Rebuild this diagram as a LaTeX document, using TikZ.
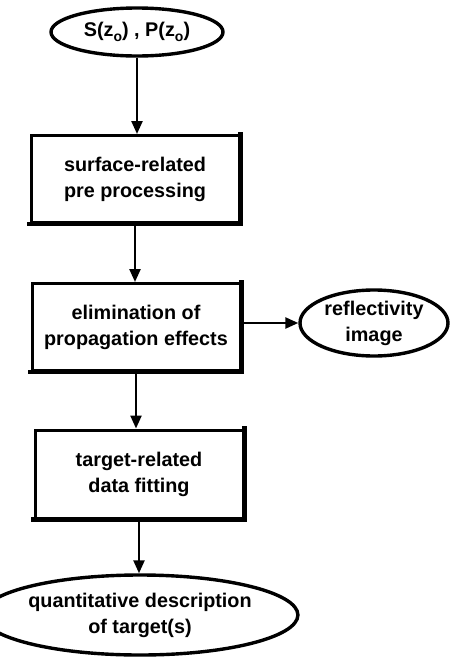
\documentclass[tikz,border=0pt]{standalone}
\usepackage{fontspec}
\setmainfont{Liberation Sans}
\usetikzlibrary{shapes.geometric,arrows.meta}
\newcommand\subo{\raisebox{-5pt}{\fontsize{14}{14}\selectfont o}}
\begin{document}
\begin{tikzpicture}[x=1pt,y=-1pt,
  every node/.style={font=\fontsize{19.8}{26}\selectfont\bfseries, align=center, inner sep=0pt},
  procbox/.style={draw, line width=3pt, rectangle, minimum width=208pt, minimum height=87pt},
  term/.style={draw, line width=3.4pt, ellipse},
  conn/.style={line width=2.4pt, -{Triangle[length=13pt,width=11pt]}},
  heavy/.style={line width=4.8pt, line cap=rect}]
\useasboundingbox (0,0) rectangle (452,659);
\node[term, minimum width=172pt, minimum height=48pt] (top) at (137,32) {S(z\subo) , P(z\subo)};
\node[procbox] (b1) at (135,179) {surface-related\\pre processing};
\node[procbox] (b2) at (136,327) {elimination of\\propagation effects};
\node[term, minimum width=148pt, minimum height=66pt] (refl) at (374,323) {reflectivity\\image};
\node[procbox, minimum height=88pt] (b3) at (139,474) {target-related\\data fitting};
\node[term, minimum width=254pt, minimum height=80pt] (bot) at (140,615) {quantitative description\\of target(s)};
\foreach \b in {b1,b2,b3}{
  \draw[heavy] (\b.north east) -- (\b.south east) -- (\b.south west);
}
\draw[conn] (top.south) -- (top.south |- b1.north);
\draw[conn] (b1.south) -- (b1.south |- b2.north);
\draw[conn] (b2.south) -- (b2.south |- b3.north);
\draw[conn] (b3.south) -- (b3.south |- bot.north);
\draw[conn] (b2.east |- refl.west) -- (refl.west);
\end{tikzpicture}
\end{document}
